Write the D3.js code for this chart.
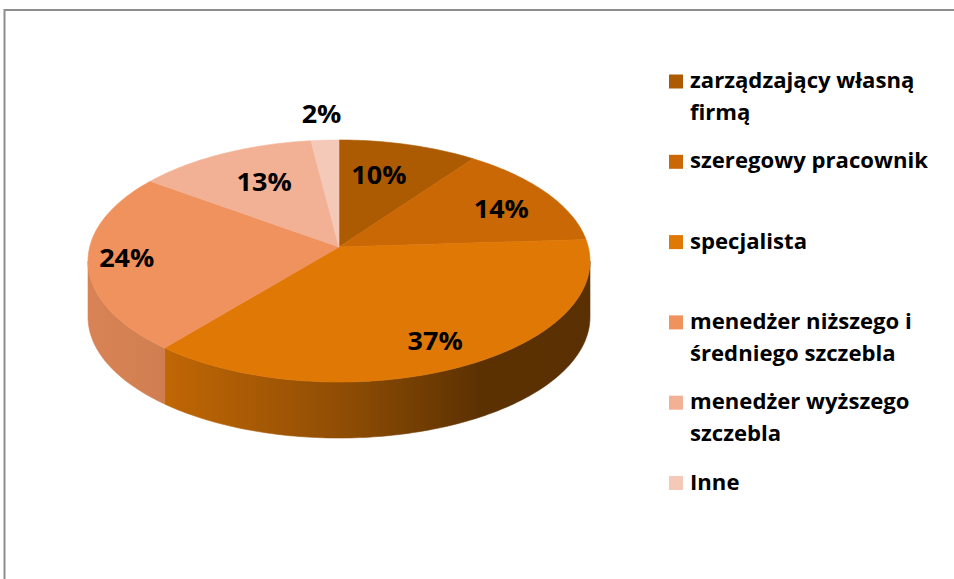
<!DOCTYPE html>
<html>
<head>
<meta charset="utf-8">
<script src="https://cdn.jsdelivr.net/npm/d3@7"></script>
<style>
  html, body { margin: 0; padding: 0; background: #fff; }
  svg { display: block; }
</style>
</head>
<body>
<svg id="chart" width="954" height="579"></svg>
<script>
// ---- data ----
const categories = [
  "zarządzający własną firmą",
  "szeregowy pracownik",
  "specjalista",
  "menedżer niższego i średniego szczebla",
  "menedżer wyższego szczebla",
  "Inne"
];
const legendLines = [
  ["zarządzający własną", "firmą"],
  ["szeregowy pracownik"],
  ["specjalista"],
  ["menedżer niższego i", "średniego szczebla"],
  ["menedżer wyższego", "szczebla"],
  ["Inne"]
];
const values = [10, 14, 37, 24, 13, 2];
const colors = ["#ad5b02", "#c96804", "#e07806", "#f0925e", "#f2b194", "#f5c9b8"];

// ---- setup ----
const svg = d3.select("#chart");
const FONT = "'Open Sans', Lato, sans-serif";

// chart border (extends past the right/bottom edge)
svg.append("rect")
  .attr("x", 4.5).attr("y", 10).attr("width", 1200).attr("height", 1200)
  .attr("fill", "none").attr("stroke", "#8e8e8e").attr("stroke-width", 2);

// perspective pie geometry
const cx = 339, cy = 247, A = 249.3, B = 119.4, E = 0.1157, depth = 56;
function proj(theta, r, dy) {
  const X = r * Math.sin(theta), Z = -r * Math.cos(theta);
  const d = 1 - E * Z;
  return [cx + A * X / d, cy + B * Z / d + (dy || 0)];
}

const pie = d3.pie().sort(null).value(d => d)(values);
const defs = svg.append("defs");

// side shading as a function of x
const shade = d3.scaleLinear()
  .domain([88, 155, 350, 480, 592])
  .range([0.9, 0.87, 0.63, 0.41, 0.40]);

const xMin = 86, xMax = 592;
pie.forEach((p, i) => {
  const c = d3.rgb(colors[i]);
  const g = defs.append("linearGradient")
    .attr("id", "side" + i)
    .attr("gradientUnits", "userSpaceOnUse")
    .attr("x1", xMin).attr("x2", xMax).attr("y1", 0).attr("y2", 0);
  shade.domain().forEach(x => {
    const f = shade(x);
    g.append("stop")
      .attr("offset", (x - xMin) / (xMax - xMin))
      .attr("stop-color", d3.rgb(c.r * f, c.g * f, c.b * f).formatHex());
  });
});

// front-facing range of the rim
const thR = Math.acos(-E), thL = 2 * Math.PI - Math.acos(-E);
const sides = svg.append("g");
pie.forEach((p, i) => {
  const a0 = Math.max(p.startAngle, thR), a1 = Math.min(p.endAngle, thL);
  if (a1 <= a0) return;
  const n = Math.max(8, Math.ceil((a1 - a0) * 60));
  const top = d3.range(n + 1).map(k => proj(a0 + (a1 - a0) * k / n, 1, 0));
  const bot = top.map(([x, y]) => [x, y + depth]).reverse();
  sides.append("path")
    .attr("d", "M" + top.concat(bot).map(pt => pt.join(",")).join("L") + "Z")
    .attr("fill", `url(#side${i})`)
    .attr("stroke", `url(#side${i})`).attr("stroke-width", 0.6);
});

// top faces
const tops = svg.append("g");
pie.forEach((p, i) => {
  const n = Math.max(6, Math.ceil((p.endAngle - p.startAngle) * 60));
  const pts = [proj(0, 0, 0)].concat(
    d3.range(n + 1).map(k => proj(p.startAngle + (p.endAngle - p.startAngle) * k / n, 1, 0)));
  tops.append("path")
    .attr("d", "M" + pts.map(pt => pt.join(",")).join("L") + "Z")
    .attr("fill", colors[i])
    .attr("stroke", colors[i]).attr("stroke-width", 0.6);
});

// percentage labels (best-fit style placement along the bisector)
const total = d3.sum(values);
const fmt = v => Math.round(v / total * 100) + "%";
const labels = svg.append("g")
  .attr("font-family", FONT)
  .attr("font-weight", "bold").attr("font-size", 25).attr("fill", "#000");
const [vx, vy] = proj(0, 0, 0);
pie.forEach((p, i) => {
  const mid = (p.startAngle + p.endAngle) / 2;
  const [rx, ry] = proj(mid, 1, 0);
  let x, y;
  if (p.value / total < 0.05) {
    [x, y] = proj(mid, 1.28, 0);
  } else {
    const front = Math.max(0, -Math.cos(mid));
    const fx = 0.46 + 0.37 * Math.abs(Math.sin(mid)) + 0.15 * front;
    const fy = 0.70 + 0.10 * front;
    x = vx + (rx - vx) * fx;
    y = vy + (ry - vy) * fy;
  }
  labels.append("text")
    .attr("data-t", `translate(${x},${y})`)
    .attr("text-anchor", "middle").attr("dy", "0.36em")
    .text(fmt(p.value));
});

// legend
const legY = d3.scaleLinear().domain([0, values.length - 1]).range([88, 489.5]);
const legend = svg.append("g")
  .attr("font-family", FONT)
  .attr("font-weight", "bold").attr("font-size", 20.5).attr("fill", "#000");
legendLines.forEach((lines, i) => {
  const y = legY(i);
  legend.append("rect")
    .attr("x", 669).attr("y", y - 13.5).attr("width", 14).attr("height", 14)
    .attr("fill", colors[i]);
  lines.forEach((ln, j) => {
    legend.append("text")
      .attr("class", "leg")
      .attr("data-t", `translate(690,${y + j * 32})`)
      .text(ln);
  });
});

// horizontal stretch (the original picture is widened)
const probe = legend.selectAll("text.leg")
  .filter(function () { return this.textContent === "szeregowy pracownik"; }).node();
const sx = probe ? 238 / probe.getComputedTextLength() : 1;
svg.selectAll("text").attr("transform", function () {
  return this.getAttribute("data-t") + ` scale(${sx},1)`;
});
</script>
</body>
</html>
